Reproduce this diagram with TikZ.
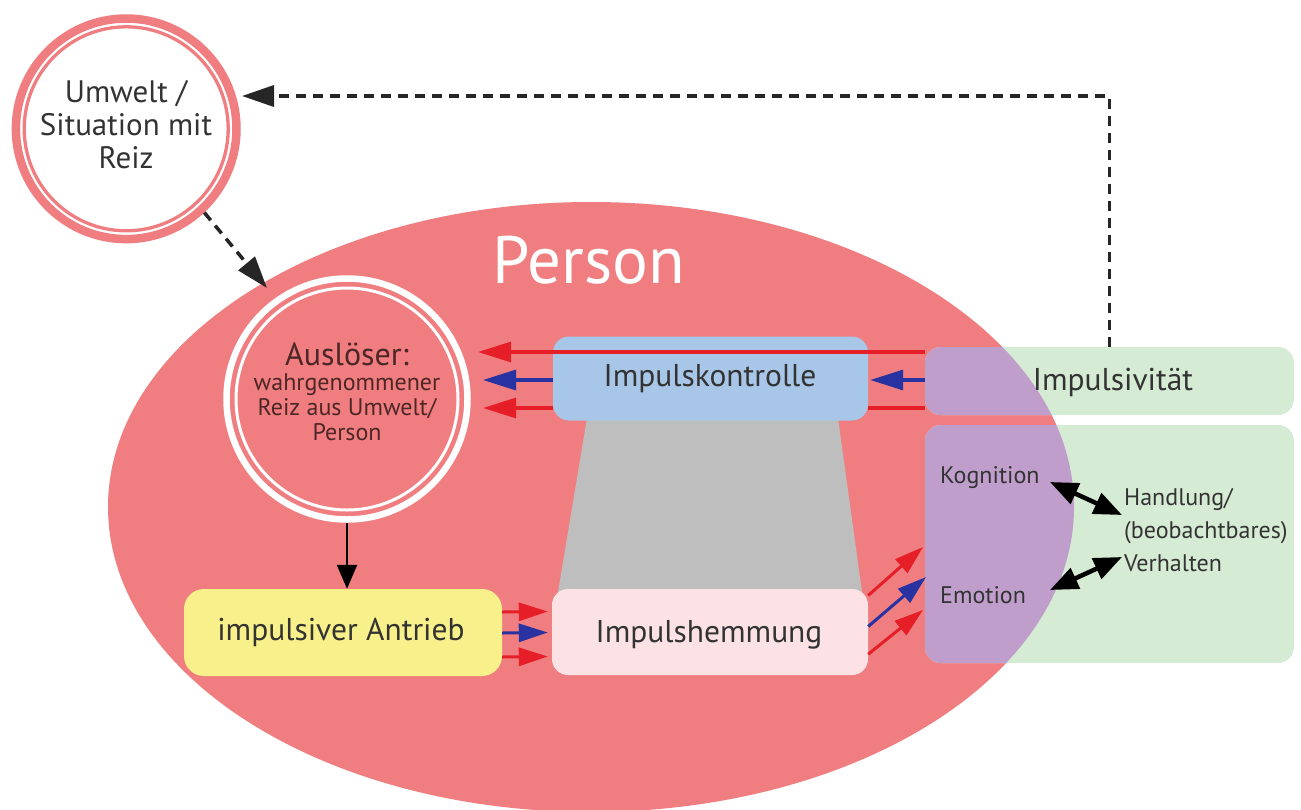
\documentclass[tikz,border=0pt]{standalone}
\usepackage{fontspec}
\setmainfont{PT Sans}
\usetikzlibrary{arrows.meta,shapes.geometric}
\definecolor{personred}{RGB}{240,126,128}
\definecolor{purp}{RGB}{192,158,204}
\definecolor{grn}{RGB}{213,235,211}
\definecolor{kblue}{RGB}{168,198,232}
\definecolor{hpink}{RGB}{253,226,229}
\definecolor{ylw}{RGB}{248,240,138}
\definecolor{trapgray}{RGB}{190,190,190}
\definecolor{arrred}{RGB}{230,30,40}
\definecolor{arrblue}{RGB}{40,50,160}
\definecolor{txt}{RGB}{51,51,51}
\definecolor{ausltxt}{RGB}{77,38,38}
\tikzset{
  box/.style={rectangle, rounded corners=16pt, inner sep=0pt},
  lbl/.style={text=txt, inner sep=0pt},
  redarr/.style={draw=arrred, line width=3.2pt, -{Triangle[length=33pt,width=20pt]}},
  bluearr/.style={draw=arrblue, line width=3.2pt, -{Triangle[length=33pt,width=20pt]}},
  redsm/.style={draw=arrred, line width=3pt, -{Triangle[length=29pt,width=18pt]}},
  bluesm/.style={draw=arrblue, line width=3pt, -{Triangle[length=29pt,width=18pt]}},
  redline/.style={draw=arrred, line width=3.2pt},
  blackarr/.style={draw=black, line width=2.2pt, -{Triangle[length=24pt,width=20pt]}},
  dbl/.style={draw=black, line width=4.5pt, {Triangle[length=28pt,width=22pt]}-{Triangle[length=28pt,width=22pt]}},
  dashline/.style={draw=black!85, line width=3.5pt, dash pattern=on 10pt off 7pt},
  dashhead/.style={-{Triangle[length=32pt,width=21pt]}},
  bigtxt/.style={font=\fontsize{31.5}{34}\selectfont},
}
\begin{document}
\begin{tikzpicture}[x=1pt,y=-1pt]
\useasboundingbox[fill=white] (0,0) rectangle (1301,809);

% Person ellipse
\node[ellipse, fill=personred, minimum width=966pt, minimum height=610pt, inner sep=0pt] (person) at (591,507) {};
\node[text=white, inner sep=0pt, anchor=base, font=\fontsize{67}{72}\selectfont] (ptext) at (588.5,283) {Person};

% green boxes
\node[box, fill=grn, minimum width=369pt, minimum height=68pt] (impv) at (1109.5,381) {};
\node[box, fill=grn, minimum width=369pt, minimum height=238pt] (behav) at (1109.5,544) {};

% purple intersection
\begin{scope}
  \clip (591,507) ellipse [x radius=483pt, y radius=305pt];
  \fill[purp, rounded corners=16pt] (925,347) rectangle (1294,415);
  \fill[purp, rounded corners=16pt] (925,425) rectangle (1294,663);
\end{scope}

% gray trapezoid
\fill[trapgray] (587,418) -- (838,418) -- (862,592) -- (558,592) -- cycle;

% boxes
\node[box, fill=kblue, minimum width=315pt, minimum height=84pt] (kontr) at (710.5,378.5) {};
\node[box, fill=hpink, minimum width=316pt, minimum height=86pt] (hemm) at (710,632) {};
\node[box, fill=ylw, minimum width=318pt, minimum height=87pt, rounded corners=20pt] (antrieb) at (343,632.5) {};

\node[lbl, anchor=base, bigtxt] (kontrt) at (710,386) {Impulskontrolle};
\node[lbl, anchor=base, bigtxt] (hemmt) at (709,642) {Impulshemmung};
\node[lbl, anchor=base, bigtxt] (antriebt) at (341,640) {impulsiver Antrieb};
\node[lbl, anchor=base, bigtxt] (impvt) at (1113,390) {Impulsivität};

% Umwelt circle
\node[circle, draw=personred, line width=8.5pt, fill=white, minimum size=220.6pt, inner sep=0pt] (umw) at (126.2,128.8) {};
\draw[personred, line width=3.3pt] (umw.center) circle[radius=102pt];
\node[lbl, anchor=base, align=center, font=\fontsize{31}{33}\selectfont] (umwt) at (126,168) {Umwelt /\\Situation mit\\Reiz};

% Ausloeser circle
\node[circle, draw=white, line width=6.5pt, minimum size=241pt, inner sep=0pt] (aus) at (347,399) {};
\draw[white, line width=3pt] (aus.center) circle[radius=111pt];
\node[inner sep=0pt, text=ausltxt, anchor=base, align=center, font=\fontsize{24}{25}\selectfont] (aust) at (347,440)
  {{\fontsize{32}{30}\selectfont Auslöser:}\\wahrgenommener\\Reiz aus Umwelt/\\Person};

% right texts
\node[lbl, anchor=base west, font=\fontsize{24}{26}\selectfont] (kog) at (940,483) {Kognition};
\node[lbl, anchor=base west, font=\fontsize{24}{26}\selectfont] (emo) at (940,603) {Emotion};
\node[lbl, anchor=base west, align=left, font=\fontsize{24}{33}\selectfont] (hand) at (1124,571) {Handlung/\\(beobachtbares)\\Verhalten};

% coordinates for free arrow ends
\coordinate (t1) at (478,352);
\coordinate (t2) at (483,380);
\coordinate (t3) at (483,408);
\coordinate (e1) at (923,547);
\coordinate (e2) at (926,577);
\coordinate (e3) at (923,610);
\coordinate (ka) at (1050,482);
\coordinate (kb) at (1122,515);
\coordinate (ea) at (1050,590);
\coordinate (eb) at (1122,557);
\coordinate (umwTip) at (242,96);
\coordinate (ausTip) at (267,288);

% Impulskontrolle arrows
\draw[redarr] ([yshift=29pt]impv.west) -- (t1);
\draw[bluearr] ([yshift=1pt]impv.west) -- ([xshift=2pt,yshift=-1.5pt]kontr.east);
\draw[redline] ([yshift=-27pt]impv.west) -- ([yshift=-29.5pt]kontr.east);
\draw[bluearr] ([yshift=-1.5pt]kontr.west) -- (t2);
\draw[redarr] ([yshift=-29.5pt]kontr.west) -- (t3);

% Antrieb -> Hemmung
\draw[redsm] ([yshift=20.5pt]antrieb.east) -- ([yshift=20.5pt,xshift=-4pt]hemm.west);
\draw[bluesm] ([yshift=-0.5pt]antrieb.east) -- ([yshift=-0.5pt,xshift=-4pt]hemm.west);
\draw[redsm] ([yshift=-24.5pt]antrieb.east) -- ([yshift=-24.5pt,xshift=-4pt]hemm.west);

% Hemmung -> Kognition/Emotion
\draw[redsm] (hemm.13) -- (e1);
\draw[bluesm] (hemm.2.5) -- (e2);
\draw[redsm] (hemm.-8.5) -- (e3);

% Ausloeser -> Antrieb
\draw[blackarr] (aus.south) -- (aus.south |- antrieb.north);

% double arrows
\draw[dbl] (ka) -- (kb);
\draw[dbl] (ea) -- (eb);

% dashed arrows
\draw[dashline, dashhead] (umw.-47) -- (ausTip);
\draw[dashline, dashhead] (impv.north) |- (umwTip);
\end{tikzpicture}
\end{document}
